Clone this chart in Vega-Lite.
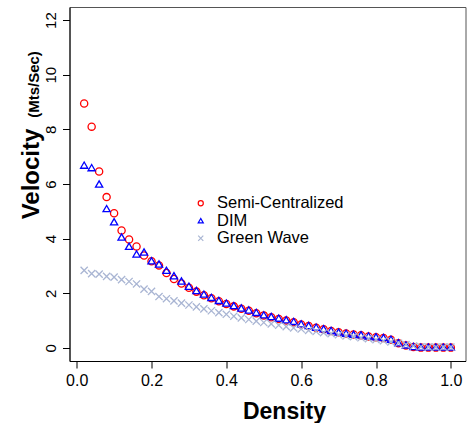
{
  "$schema": "https://vega.github.io/schema/vega-lite/v6.json",
  "width": 396,
  "height": 354,
  "autosize": {"type": "none"},
  "padding": {"left": 69.5, "top": 7, "right": 4.5, "bottom": 62},
  "background": "white",
  "config": {
    "font": "Liberation Sans",
    "view": {"stroke": "#555555", "strokeWidth": 1},
    "axis": {"grid": false, "domainColor": "black", "tickColor": "black", "labelColor": "black", "titleColor": "black"}
  },
  "datasets": {
    "pts": [
      {"d": 0.02, "s": "Semi-Centralized", "v": 8.95},
      {"d": 0.04, "s": "Semi-Centralized", "v": 8.10},
      {"d": 0.06, "s": "Semi-Centralized", "v": 6.46},
      {"d": 0.08, "s": "Semi-Centralized", "v": 5.52},
      {"d": 0.10, "s": "Semi-Centralized", "v": 4.93},
      {"d": 0.12, "s": "Semi-Centralized", "v": 4.30},
      {"d": 0.14, "s": "Semi-Centralized", "v": 3.97},
      {"d": 0.16, "s": "Semi-Centralized", "v": 3.71},
      {"d": 0.18, "s": "Semi-Centralized", "v": 3.38},
      {"d": 0.20, "s": "Semi-Centralized", "v": 3.17},
      {"d": 0.22, "s": "Semi-Centralized", "v": 3.02},
      {"d": 0.24, "s": "Semi-Centralized", "v": 2.74},
      {"d": 0.26, "s": "Semi-Centralized", "v": 2.52},
      {"d": 0.28, "s": "Semi-Centralized", "v": 2.36},
      {"d": 0.30, "s": "Semi-Centralized", "v": 2.20},
      {"d": 0.32, "s": "Semi-Centralized", "v": 2.06},
      {"d": 0.34, "s": "Semi-Centralized", "v": 1.93},
      {"d": 0.36, "s": "Semi-Centralized", "v": 1.82},
      {"d": 0.38, "s": "Semi-Centralized", "v": 1.71},
      {"d": 0.40, "s": "Semi-Centralized", "v": 1.61},
      {"d": 0.42, "s": "Semi-Centralized", "v": 1.52},
      {"d": 0.44, "s": "Semi-Centralized", "v": 1.43},
      {"d": 0.46, "s": "Semi-Centralized", "v": 1.36},
      {"d": 0.48, "s": "Semi-Centralized", "v": 1.27},
      {"d": 0.50, "s": "Semi-Centralized", "v": 1.19},
      {"d": 0.52, "s": "Semi-Centralized", "v": 1.12},
      {"d": 0.54, "s": "Semi-Centralized", "v": 1.06},
      {"d": 0.56, "s": "Semi-Centralized", "v": 1.00},
      {"d": 0.58, "s": "Semi-Centralized", "v": 0.94},
      {"d": 0.60, "s": "Semi-Centralized", "v": 0.86},
      {"d": 0.62, "s": "Semi-Centralized", "v": 0.80},
      {"d": 0.64, "s": "Semi-Centralized", "v": 0.74},
      {"d": 0.66, "s": "Semi-Centralized", "v": 0.68},
      {"d": 0.68, "s": "Semi-Centralized", "v": 0.62},
      {"d": 0.70, "s": "Semi-Centralized", "v": 0.57},
      {"d": 0.72, "s": "Semi-Centralized", "v": 0.53},
      {"d": 0.74, "s": "Semi-Centralized", "v": 0.49},
      {"d": 0.76, "s": "Semi-Centralized", "v": 0.46},
      {"d": 0.78, "s": "Semi-Centralized", "v": 0.42},
      {"d": 0.80, "s": "Semi-Centralized", "v": 0.39},
      {"d": 0.82, "s": "Semi-Centralized", "v": 0.36},
      {"d": 0.84, "s": "Semi-Centralized", "v": 0.30},
      {"d": 0.86, "s": "Semi-Centralized", "v": 0.17},
      {"d": 0.88, "s": "Semi-Centralized", "v": 0.09},
      {"d": 0.90, "s": "Semi-Centralized", "v": 0.03},
      {"d": 0.92, "s": "Semi-Centralized", "v": 0.01},
      {"d": 0.94, "s": "Semi-Centralized", "v": 0.01},
      {"d": 0.96, "s": "Semi-Centralized", "v": 0.01},
      {"d": 0.98, "s": "Semi-Centralized", "v": 0.01},
      {"d": 1.00, "s": "Semi-Centralized", "v": 0.01},
      {"d": 0.02, "s": "DIM", "v": 6.69},
      {"d": 0.04, "s": "DIM", "v": 6.60},
      {"d": 0.06, "s": "DIM", "v": 6.00},
      {"d": 0.08, "s": "DIM", "v": 5.10},
      {"d": 0.10, "s": "DIM", "v": 4.62},
      {"d": 0.12, "s": "DIM", "v": 4.06},
      {"d": 0.14, "s": "DIM", "v": 3.72},
      {"d": 0.16, "s": "DIM", "v": 3.44},
      {"d": 0.18, "s": "DIM", "v": 3.51},
      {"d": 0.20, "s": "DIM", "v": 3.19},
      {"d": 0.22, "s": "DIM", "v": 3.07},
      {"d": 0.24, "s": "DIM", "v": 2.84},
      {"d": 0.26, "s": "DIM", "v": 2.64},
      {"d": 0.28, "s": "DIM", "v": 2.45},
      {"d": 0.30, "s": "DIM", "v": 2.26},
      {"d": 0.32, "s": "DIM", "v": 2.10},
      {"d": 0.34, "s": "DIM", "v": 1.97},
      {"d": 0.36, "s": "DIM", "v": 1.85},
      {"d": 0.38, "s": "DIM", "v": 1.74},
      {"d": 0.40, "s": "DIM", "v": 1.64},
      {"d": 0.42, "s": "DIM", "v": 1.55},
      {"d": 0.44, "s": "DIM", "v": 1.46},
      {"d": 0.46, "s": "DIM", "v": 1.39},
      {"d": 0.48, "s": "DIM", "v": 1.30},
      {"d": 0.50, "s": "DIM", "v": 1.21},
      {"d": 0.52, "s": "DIM", "v": 1.15},
      {"d": 0.54, "s": "DIM", "v": 1.09},
      {"d": 0.56, "s": "DIM", "v": 1.03},
      {"d": 0.58, "s": "DIM", "v": 0.97},
      {"d": 0.60, "s": "DIM", "v": 0.88},
      {"d": 0.62, "s": "DIM", "v": 0.82},
      {"d": 0.64, "s": "DIM", "v": 0.76},
      {"d": 0.66, "s": "DIM", "v": 0.70},
      {"d": 0.68, "s": "DIM", "v": 0.64},
      {"d": 0.70, "s": "DIM", "v": 0.58},
      {"d": 0.72, "s": "DIM", "v": 0.54},
      {"d": 0.74, "s": "DIM", "v": 0.50},
      {"d": 0.76, "s": "DIM", "v": 0.48},
      {"d": 0.78, "s": "DIM", "v": 0.44},
      {"d": 0.80, "s": "DIM", "v": 0.41},
      {"d": 0.82, "s": "DIM", "v": 0.38},
      {"d": 0.84, "s": "DIM", "v": 0.32},
      {"d": 0.86, "s": "DIM", "v": 0.19},
      {"d": 0.88, "s": "DIM", "v": 0.11},
      {"d": 0.90, "s": "DIM", "v": 0.05},
      {"d": 0.92, "s": "DIM", "v": 0.03},
      {"d": 0.94, "s": "DIM", "v": 0.03},
      {"d": 0.96, "s": "DIM", "v": 0.03},
      {"d": 0.98, "s": "DIM", "v": 0.03},
      {"d": 1.00, "s": "DIM", "v": 0.03},
      {"d": 0.02, "s": "Green Wave", "v": 2.84},
      {"d": 0.04, "s": "Green Wave", "v": 2.72},
      {"d": 0.06, "s": "Green Wave", "v": 2.70},
      {"d": 0.08, "s": "Green Wave", "v": 2.62},
      {"d": 0.10, "s": "Green Wave", "v": 2.59},
      {"d": 0.12, "s": "Green Wave", "v": 2.50},
      {"d": 0.14, "s": "Green Wave", "v": 2.43},
      {"d": 0.16, "s": "Green Wave", "v": 2.34},
      {"d": 0.18, "s": "Green Wave", "v": 2.15},
      {"d": 0.20, "s": "Green Wave", "v": 2.07},
      {"d": 0.22, "s": "Green Wave", "v": 1.88},
      {"d": 0.24, "s": "Green Wave", "v": 1.80},
      {"d": 0.26, "s": "Green Wave", "v": 1.72},
      {"d": 0.28, "s": "Green Wave", "v": 1.64},
      {"d": 0.30, "s": "Green Wave", "v": 1.57},
      {"d": 0.32, "s": "Green Wave", "v": 1.50},
      {"d": 0.34, "s": "Green Wave", "v": 1.43},
      {"d": 0.36, "s": "Green Wave", "v": 1.36},
      {"d": 0.38, "s": "Green Wave", "v": 1.29},
      {"d": 0.40, "s": "Green Wave", "v": 1.23},
      {"d": 0.42, "s": "Green Wave", "v": 1.16},
      {"d": 0.44, "s": "Green Wave", "v": 1.10},
      {"d": 0.46, "s": "Green Wave", "v": 1.04},
      {"d": 0.48, "s": "Green Wave", "v": 0.98},
      {"d": 0.50, "s": "Green Wave", "v": 0.93},
      {"d": 0.52, "s": "Green Wave", "v": 0.88},
      {"d": 0.54, "s": "Green Wave", "v": 0.83},
      {"d": 0.56, "s": "Green Wave", "v": 0.78},
      {"d": 0.58, "s": "Green Wave", "v": 0.73},
      {"d": 0.60, "s": "Green Wave", "v": 0.69},
      {"d": 0.62, "s": "Green Wave", "v": 0.64},
      {"d": 0.64, "s": "Green Wave", "v": 0.60},
      {"d": 0.66, "s": "Green Wave", "v": 0.56},
      {"d": 0.68, "s": "Green Wave", "v": 0.52},
      {"d": 0.70, "s": "Green Wave", "v": 0.48},
      {"d": 0.72, "s": "Green Wave", "v": 0.44},
      {"d": 0.74, "s": "Green Wave", "v": 0.41},
      {"d": 0.76, "s": "Green Wave", "v": 0.37},
      {"d": 0.78, "s": "Green Wave", "v": 0.34},
      {"d": 0.80, "s": "Green Wave", "v": 0.30},
      {"d": 0.82, "s": "Green Wave", "v": 0.26},
      {"d": 0.84, "s": "Green Wave", "v": 0.22},
      {"d": 0.86, "s": "Green Wave", "v": 0.17},
      {"d": 0.88, "s": "Green Wave", "v": 0.12},
      {"d": 0.90, "s": "Green Wave", "v": 0.07},
      {"d": 0.92, "s": "Green Wave", "v": 0.04},
      {"d": 0.94, "s": "Green Wave", "v": 0.03},
      {"d": 0.96, "s": "Green Wave", "v": 0.03},
      {"d": 0.98, "s": "Green Wave", "v": 0.03},
      {"d": 1.00, "s": "Green Wave", "v": 0.03}
    ]
  },
  "data": {"name": "pts"},
  "resolve": {"axis": {"y": "independent"}},
  "layer": [
    {
      "mark": {"type": "point", "filled": false, "strokeWidth": 1.3, "size": 52, "opacity": 1},
      "encoding": {
        "x": {
          "field": "d", "type": "quantitative",
          "scale": {"domain": [-0.0192, 1.0392], "nice": false, "zero": false},
          "axis": {
            "values": [0, 0.2, 0.4, 0.6, 0.8, 1.0], "format": ".1f",
            "labelFontSize": 16, "tickSize": 7, "labelPadding": 4,
            "labelFlush": false, "labelOverlap": false,
            "title": "Density", "titleFontSize": 23, "titleFontWeight": "bold",
            "titleX": 214.5, "titleY": 57, "titleAlign": "center", "titleBaseline": "alphabetic"
          }
        },
        "y": {
          "field": "v", "type": "quantitative",
          "scale": {"domain": [-0.48, 12.48], "nice": false, "zero": false},
          "axis": {
            "values": [0, 2, 4, 6, 8, 10, 12],
            "labelFontSize": 15, "labelAngle": 270, "labelAlign": "center", "labelBaseline": "alphabetic",
            "tickSize": 7, "labelPadding": 7, "labelFlush": false, "labelOverlap": false,
            "title": "Velocity", "titleFontSize": 24, "titleFontWeight": "bold", "titleAngle": 270,
            "titleX": -31.5, "titleY": 166.5, "titleAlign": "center", "titleBaseline": "alphabetic"
          }
        },
        "color": {
          "field": "s", "type": "nominal",
          "scale": {"domain": ["Semi-Centralized", "DIM", "Green Wave"], "range": ["#ff0000", "#0000ff", "#a9b5d3"]},
          "legend": {
            "title": null, "orient": "none", "legendX": 123, "legendY": 188,
            "labelFontSize": 16.5, "labelColor": "black", "labelOffset": 8,
            "symbolSize": 26, "symbolStrokeWidth": 1.2, "rowPadding": 0.5, "padding": 0
          }
        },
        "shape": {
          "field": "s", "type": "nominal",
          "scale": {"domain": ["Semi-Centralized", "DIM", "Green Wave"], "range": ["circle", "triangle-up", "M-1,-1L1,1M1,-1L-1,1"]},
          "legend": {
            "title": null, "orient": "none", "legendX": 123, "legendY": 188,
            "labelFontSize": 16.5, "labelColor": "black", "labelOffset": 8,
            "symbolSize": 26, "symbolStrokeWidth": 1.2, "rowPadding": 0.5, "padding": 0
          }
        }
      }
    },
    {
      "mark": {"type": "point", "opacity": 0},
      "encoding": {
        "x": {"field": "d", "type": "quantitative"},
        "y": {
          "field": "v", "type": "quantitative",
          "axis": {
            "orient": "right", "labels": false, "ticks": false, "domain": false, "grid": false,
            "title": "(Mts/Sec)", "titleFontSize": 15, "titleFontWeight": "bold", "titleAngle": 270,
            "titleX": -427.4, "titleY": 77, "titleAlign": "center", "titleBaseline": "alphabetic"
          }
        }
      }
    }
  ]
}
